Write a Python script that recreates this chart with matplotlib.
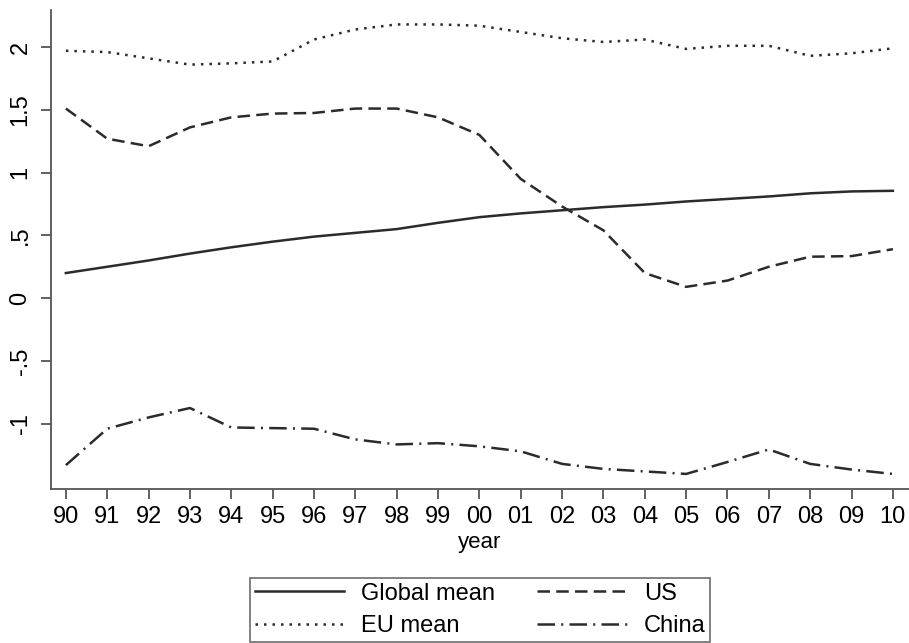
import matplotlib
matplotlib.use('Agg')
import matplotlib.pyplot as plt

plt.rcParams['font.family'] = ['Liberation Sans', 'DejaVu Sans']

years = ['90', '91', '92', '93', '94', '95', '96', '97', '98', '99', '00',
         '01', '02', '03', '04', '05', '06', '07', '08', '09', '10']

global_mean = [0.20, 0.25, 0.30, 0.355, 0.405, 0.45, 0.49, 0.52, 0.55, 0.60, 0.645,
               0.675, 0.70, 0.725, 0.745, 0.77, 0.79, 0.81, 0.835, 0.85, 0.855]
eu_mean = [1.97, 1.96, 1.91, 1.86, 1.87, 1.885, 2.06, 2.14, 2.18, 2.18, 2.17,
           2.12, 2.07, 2.04, 2.06, 1.985, 2.01, 2.01, 1.93, 1.95, 1.99]
us = [1.51, 1.27, 1.21, 1.36, 1.44, 1.47, 1.475, 1.51, 1.51, 1.44, 1.30,
      0.95, 0.73, 0.54, 0.20, 0.09, 0.14, 0.25, 0.33, 0.335, 0.39]
china = [-1.33, -1.04, -0.95, -0.875, -1.03, -1.035, -1.04, -1.125, -1.165, -1.155, -1.18,
         -1.22, -1.32, -1.36, -1.38, -1.40, -1.305, -1.205, -1.32, -1.365, -1.40]

yticks = [2, 1.5, 1, 0.5, 0, -0.5, -1]
ytick_labels = ['2', '1.5', '1', '.5', '0', '-.5', '-1']

x = list(range(len(years)))
col = '#2b2b2b'
lw = 1.8

fig = plt.figure(figsize=(9.09, 6.43), dpi=100)
ax = fig.add_axes([51 / 909, 1 - 489 / 643, 1 - 51 / 909, (489 - 10) / 643])

ax.plot(x, global_mean, color=col, lw=lw, ls='-', label='Global mean')
ax.plot(x, eu_mean, color=col, lw=lw, ls=(0, (1.0, 2.4)), label='EU mean')
ax.plot(x, us, color=col, lw=lw, ls=(0, (5, 2.5)), label='US')
ax.plot(x, china, color=col, lw=lw, ls=(0, (7, 2.5, 0.8, 2.5)), label='China')

ax.set_xlim(-0.36, 20.39)
ax.set_ylim(-1.52, 2.295)
ax.set_xticks(x)
ax.set_xticklabels(years)
ax.set_yticks(yticks)
ax.set_yticklabels(ytick_labels, rotation=90, va='center')

for s in ['top', 'right']:
    ax.spines[s].set_visible(False)
for s in ['left', 'bottom']:
    ax.spines[s].set_color('#555555')
    ax.spines[s].set_linewidth(1.3)
ax.tick_params(colors='#555555', width=1.3, length=7, labelsize=17,
               labelcolor='black', pad=5)
ax.tick_params(axis='y', pad=7)
ax.set_xlabel('year', fontsize=16, labelpad=3)

fig.legend(loc='upper center', bbox_to_anchor=(480 / 909, 1 - 566 / 643), ncol=2,
           fontsize=17, handlelength=3.8, columnspacing=1.8, handletextpad=0.7,
           fancybox=False, frameon=True, edgecolor='#555555', borderpad=0.2,
           labelspacing=0.45)
fig.legends[0].get_frame().set_linewidth(1.3)

fig.savefig('out.png', dpi=100)
